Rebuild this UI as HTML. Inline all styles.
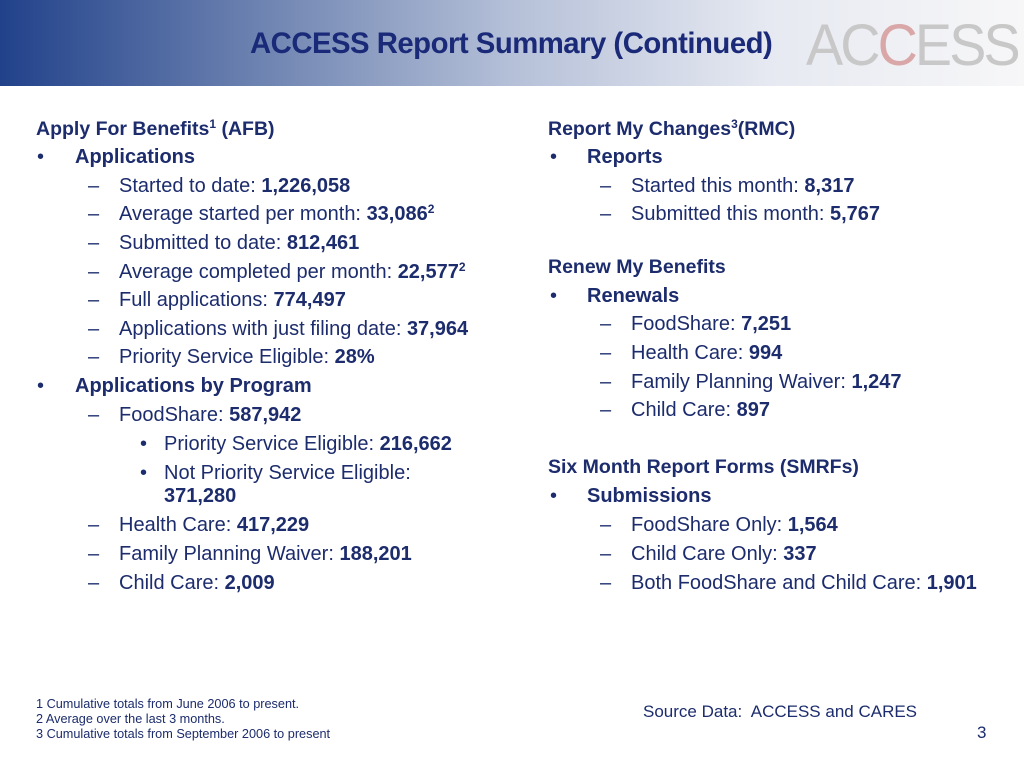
<!DOCTYPE html><html><head><style>
body{margin:0;width:1024px;height:768px;position:relative;background:#fff;font-family:"Liberation Sans",Arial,sans-serif;color:#1c2c6c;overflow:hidden}
.h{position:absolute;left:0;top:0;width:1024px;height:86px;background:linear-gradient(90deg,#21418a 0%,#6c82b0 25%,#b5c0d8 50%,#e6e9f1 75%,#f7f7f8 100%)}
.t{position:absolute;left:250px;top:27px;font-size:29.3px;font-weight:bold;color:#1a2a78;letter-spacing:-0.5px}
.logo{position:absolute;left:806px;top:12px;font-size:58px;color:#c8c8c8;letter-spacing:-3px;font-weight:normal;transform:scaleX(0.96);transform-origin:left}
.l{position:absolute;font-size:20px;line-height:22px;white-space:nowrap;top:0}
.hd{font-size:19.5px}
b{font-weight:bold}
sup{font-size:12px;vertical-align:7px;line-height:0}
.f{position:absolute;font-size:12.7px;line-height:15px;left:36px;top:697px}
</style></head><body>
<div class="h"></div>
<div class="t">ACCESS Report Summary (Continued)</div>
<div class="logo">AC<span style="color:#d9a7a7">C</span>ESS</div>

<div class="l hd" style="left:36px;top:118px"><b>Apply For Benefits<sup>1</sup> (AFB)</b></div>
<div class="l" style="left:37px;top:146px">•</div><div class="l" style="left:75px;top:146px"><b>Applications</b></div>
<div class="l" style="left:88px;top:175px">–</div><div class="l" style="left:119px;top:175px">Started to date: <b>1,226,058</b></div>
<div class="l" style="left:88px;top:203px">–</div><div class="l" style="left:119px;top:203px">Average started per month: <b>33,086<sup>2</sup></b></div>
<div class="l" style="left:88px;top:232px">–</div><div class="l" style="left:119px;top:232px">Submitted to date: <b>812,461</b></div>
<div class="l" style="left:88px;top:261px">–</div><div class="l" style="left:119px;top:261px">Average completed per month: <b>22,577<sup>2</sup></b></div>
<div class="l" style="left:88px;top:289px">–</div><div class="l" style="left:119px;top:289px">Full applications: <b>774,497</b></div>
<div class="l" style="left:88px;top:318px">–</div><div class="l" style="left:119px;top:318px">Applications with just filing date: <b>37,964</b></div>
<div class="l" style="left:88px;top:346px">–</div><div class="l" style="left:119px;top:346px">Priority Service Eligible: <b>28%</b></div>
<div class="l" style="left:37px;top:375px">•</div><div class="l" style="left:75px;top:375px"><b>Applications by Program</b></div>
<div class="l" style="left:88px;top:404px">–</div><div class="l" style="left:119px;top:404px">FoodShare: <b>587,942</b></div>
<div class="l" style="left:140px;top:433px">•</div><div class="l" style="left:164px;top:433px">Priority Service Eligible: <b>216,662</b></div>
<div class="l" style="left:140px;top:462px">•</div><div class="l" style="left:164px;top:462px">Not Priority Service Eligible:</div>
<div class="l" style="left:164px;top:485px"><b>371,280</b></div>
<div class="l" style="left:88px;top:514px">–</div><div class="l" style="left:119px;top:514px">Health Care: <b>417,229</b></div>
<div class="l" style="left:88px;top:543px">–</div><div class="l" style="left:119px;top:543px">Family Planning Waiver: <b>188,201</b></div>
<div class="l" style="left:88px;top:572px">–</div><div class="l" style="left:119px;top:572px">Child Care: <b>2,009</b></div>

<div class="l hd" style="left:548px;top:118px"><b>Report My Changes<sup>3</sup>(RMC)</b></div>
<div class="l" style="left:550px;top:146px">•</div><div class="l" style="left:587px;top:146px"><b>Reports</b></div>
<div class="l" style="left:600px;top:175px">–</div><div class="l" style="left:631px;top:175px">Started this month: <b>8,317</b></div>
<div class="l" style="left:600px;top:203px">–</div><div class="l" style="left:631px;top:203px">Submitted this month: <b>5,767</b></div>
<div class="l hd" style="left:548px;top:256px"><b>Renew My Benefits</b></div>
<div class="l" style="left:550px;top:285px">•</div><div class="l" style="left:587px;top:285px"><b>Renewals</b></div>
<div class="l" style="left:600px;top:313px">–</div><div class="l" style="left:631px;top:313px">FoodShare: <b>7,251</b></div>
<div class="l" style="left:600px;top:342px">–</div><div class="l" style="left:631px;top:342px">Health Care: <b>994</b></div>
<div class="l" style="left:600px;top:371px">–</div><div class="l" style="left:631px;top:371px">Family Planning Waiver: <b>1,247</b></div>
<div class="l" style="left:600px;top:399px">–</div><div class="l" style="left:631px;top:399px">Child Care: <b>897</b></div>
<div class="l hd" style="left:548px;top:456px"><b>Six Month Report Forms (SMRFs)</b></div>
<div class="l" style="left:550px;top:485px">•</div><div class="l" style="left:587px;top:485px"><b>Submissions</b></div>
<div class="l" style="left:600px;top:514px">–</div><div class="l" style="left:631px;top:514px">FoodShare Only: <b>1,564</b></div>
<div class="l" style="left:600px;top:543px">–</div><div class="l" style="left:631px;top:543px">Child Care Only: <b>337</b></div>
<div class="l" style="left:600px;top:572px">–</div><div class="l" style="left:631px;top:572px">Both FoodShare and Child Care: <b>1,901</b></div>

<div class="f">1 Cumulative totals from June 2006 to present.<br>2 Average over the last 3 months.<br>3 Cumulative totals from September 2006 to present</div>
<div class="l" style="left:643px;top:701px;font-size:17px">Source Data:&nbsp; ACCESS and CARES</div>
<div class="l" style="left:977px;top:722px;font-size:17px">3</div>
</body></html>
